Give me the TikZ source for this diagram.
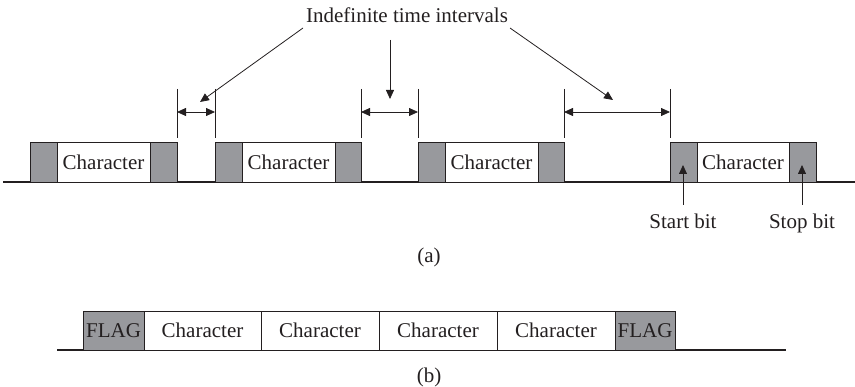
\documentclass[tikz,border=0pt]{standalone}
\usepackage{fontspec}
\setmainfont{Liberation Serif}
\usetikzlibrary{arrows.meta}
\definecolor{bitgray}{RGB}{152,153,157}
\definecolor{ink}{RGB}{35,31,32}
\newcommand{\bx}[7]{\node[#2, minimum width={#4-#3}, minimum height={#6-#5}] (#1) at ({(#3+#4)/2},{(#5+#6)/2}) {#7};}
\begin{document}
\begin{tikzpicture}[x=1pt,y=-1pt,
  font=\fontsize{21}{25}\selectfont, text=ink,
  cell/.style={draw=ink, line width=0.9pt, inner sep=0pt, outer sep=0pt, fill=white},
  bitbox/.style={cell, fill=bitgray},
  wire/.style={draw=ink, line width=1.4pt},
  tick/.style={draw=ink, line width=0.8pt},
  tip/.style={draw=ink, line width=0.8pt, -{Triangle[length=9pt,width=8pt]}},
  dtip/.style={draw=ink, line width=0.8pt, {Triangle[length=9pt,width=8pt]}-{Triangle[length=9pt,width=8pt]}}]
\useasboundingbox (0,0) rectangle (855,387);
% ---------- (a) ----------
\coordinate (wa0) at (3,182);
\coordinate (wa1) at (855,182);
\draw[wire] (wa0) -- (wa1);
\bx{s1}{bitbox}{30}{57}{142}{182}{}
\bx{c1}{cell}{57}{150}{142}{182}{Character}
\bx{e1}{bitbox}{150}{177}{142}{182}{}
\bx{s2}{bitbox}{215}{242}{142}{182}{}
\bx{c2}{cell}{242}{335}{142}{182}{Character}
\bx{e2}{bitbox}{335}{361}{142}{182}{}
\bx{s3}{bitbox}{418}{445}{142}{182}{}
\bx{c3}{cell}{445}{538}{142}{182}{Character}
\bx{e3}{bitbox}{538}{564}{142}{182}{}
\bx{s4}{bitbox}{670}{697}{142}{182}{}
\bx{c4}{cell}{697}{789}{142}{182}{Character}
\bx{e4}{bitbox}{789}{816}{142}{182}{}
% interval ticks
\foreach \n/\xa/\xb in {1/177/215, 2/361/418, 3/564/670}{
  \coordinate (g\n lt) at (\xa,89);
  \coordinate (g\n lb) at (\xa,138);
  \coordinate (g\n rt) at (\xb,89);
  \coordinate (g\n rb) at (\xb,138);
  \coordinate (g\n l) at (\xa,112);
  \coordinate (g\n r) at (\xb,112);
  \draw[tick] (g\n lt) -- (g\n lb);
  \draw[tick] (g\n rt) -- (g\n rb);
  \draw[dtip] (g\n l) -- (g\n r);
}
% label and leaders
\node[anchor=base, inner sep=0pt] (lbl) at (407,23) {Indefinite time intervals};
\coordinate (p1) at (303,28);
\coordinate (q1) at (200,102);
\coordinate (p2) at (390,40);
\coordinate (q2) at (390,99);
\coordinate (p3) at (510,28);
\coordinate (q3) at (613,100);
\draw[tip] (p1) -- (q1);
\draw[tip] (p2) -- (q2);
\draw[tip] (p3) -- (q3);
% start / stop bit
\node[anchor=base, inner sep=0pt] (startl) at (683,229) {Start bit};
\node[anchor=base, inner sep=0pt] (stopl) at (802,229) {Stop bit};
\coordinate (sa) at (683,205);
\coordinate (sb) at (683,165);
\coordinate (ta) at (802,205);
\coordinate (tb) at (802,165);
\draw[tip] (sa) -- (sb);
\draw[tip] (ta) -- (tb);
\node[anchor=base, inner sep=0pt] (capa) at (429,263) {(a)};
% ---------- (b) ----------
\coordinate (wb0) at (57,350);
\coordinate (wb1) at (786,350);
\draw[wire] (wb0) -- (wb1);
\bx{fl1}{bitbox}{83}{144}{311}{350}{FLAG}
\bx{b1}{cell}{144}{261}{311}{350}{Character}
\bx{b2}{cell}{261}{379}{311}{350}{Character}
\bx{b3}{cell}{379}{497}{311}{350}{Character}
\bx{b4}{cell}{497}{615}{311}{350}{Character}
\bx{fl2}{bitbox}{615}{675}{311}{350}{FLAG}
\node[anchor=base, inner sep=0pt] (capb) at (429,383) {(b)};
\end{tikzpicture}
\end{document}
